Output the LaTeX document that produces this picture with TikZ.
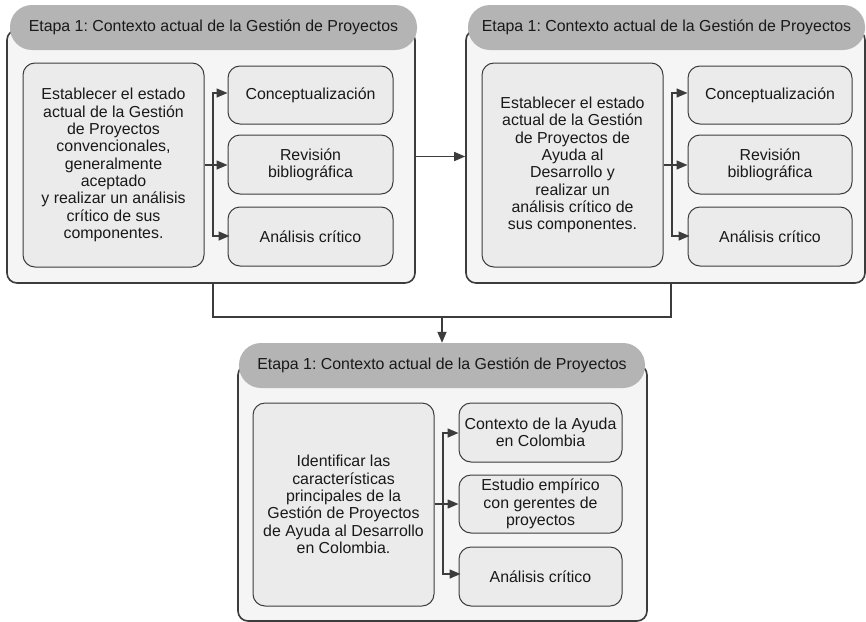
\documentclass[tikz,border=0pt]{standalone}
\usepackage{fontspec}
\setmainfont{Liberation Sans}
\frenchspacing
\usetikzlibrary{arrows.meta,calc}
\definecolor{headgray}{RGB}{180,180,180}
\definecolor{panelfill}{RGB}{245,245,245}
\definecolor{boxfill}{RGB}{235,235,235}
\definecolor{edge}{RGB}{60,60,60}
\definecolor{inkgray}{RGB}{25,25,25}
\tikzset{
  panel/.style={draw=edge, line width=1.6pt, fill=panelfill, rounded corners=10pt,
    inner sep=0pt},
  header/.style={fill=headgray, rounded corners=22pt, inner sep=0pt,
    minimum height=45pt, text=inkgray},
  item/.style={draw=edge, line width=1pt, fill=boxfill, rounded corners=12pt,
    inner sep=0pt, align=center, text=inkgray},
  conn/.style={draw=edge, line width=1.5pt},
  arr/.style={conn, -{Triangle[length=11pt,width=9pt]}},
}
\begin{document}
\begin{tikzpicture}[x=1pt, y=-1pt, font=\fontsize{15.9}{17.3}\selectfont]
\useasboundingbox (0,0) rectangle (866,621);
\fill[white] (0,0) rectangle (866,621);

% ---------- stage panel 1 ----------
\node[panel, minimum width=408pt, minimum height=253pt] (p1) at (211,156.5) {};
\node[header, minimum width=407pt] (h1) at (213.5,27.5) {Etapa 1: Contexto actual de la Gestión de Proyectos};
\node[item, minimum width=181pt, minimum height=204pt] (l1) at (113.5,165)
  {Establecer el estado\\actual de la Gestión\\de Proyectos\\convencionales,\\generalmente\\aceptado\\y realizar un análisis\\crítico de sus\\componentes.};
\node[item, minimum width=165pt, minimum height=58pt] (a1) at (310.5,95) {Conceptualización};
\node[item, minimum width=165pt, minimum height=59pt] (b1) at (310.5,164.5) {Revisión\\bibliográfica};
\node[item, minimum width=165pt, minimum height=59pt] (c1) at (310.5,236.5) {Análisis crítico};
\coordinate (t1) at (213,165);
\draw[arr] (l1.east |- t1) -- (b1.west |- t1);
\draw[arr] (t1) |- (a1.west |- 0,93);
\draw[arr] (t1) |- ($(c1.west |- 0,236)+(2,0)$);

% ---------- stage panel 2 ----------
\node[panel, minimum width=399pt, minimum height=253pt] (p2) at (665.5,156.5) {};
\node[header, minimum width=397pt] (h2) at (666.5,27.5) {Etapa 1: Contexto actual de la Gestión de Proyectos};
\node[item, minimum width=181pt, minimum height=204pt] (l2) at (572.5,165)
  {Establecer el estado\\actual de la Gestión\\de Proyectos de\\Ayuda al\\Desarrollo y\\realizar un\\análisis crítico de\\sus componentes.};
\node[item, minimum width=164pt, minimum height=58pt] (a2) at (770,95) {Conceptualización};
\node[item, minimum width=164pt, minimum height=59pt] (b2) at (770,164.5) {Revisión\\bibliográfica};
\node[item, minimum width=164pt, minimum height=59pt] (c2) at (770,236.5) {Análisis crítico};
\coordinate (t2) at (672,165);
\draw[arr] (l2.east |- t2) -- (b2.west |- t2);
\draw[arr] (t2) |- (a2.west |- 0,93);
\draw[arr] (t2) |- ($(c2.west |- 0,236)+(2,0)$);

% ---------- stage panel 3 ----------
\node[panel, minimum width=409pt, minimum height=256pt] (p3) at (442.5,493) {};
\node[header, minimum width=406pt] (h3) at (442,365.5) {Etapa 1: Contexto actual de la Gestión de Proyectos};
\node[item, minimum width=181pt, minimum height=203pt] (l3) at (343.5,504.5)
  {Identificar las\\características\\principales de la\\Gestión de Proyectos\\de Ayuda al Desarrollo\\en Colombia.};
\node[item, minimum width=163pt, minimum height=59pt] (a3) at (540.5,432.5) {Contexto de la Ayuda\\en Colombia};
\node[item, minimum width=163pt, minimum height=58pt] (b3) at (540.5,504) {Estudio empírico\\con gerentes de\\proyectos};
\node[item, minimum width=163pt, minimum height=59pt] (c3) at (540.5,576.5) {Análisis crítico};
\coordinate (t3) at (443,504);
\draw[arr] (l3.east |- t3) -- (b3.west |- t3);
\draw[arr] (t3) |- (a3.west |- 0,433);
\draw[arr] (t3) |- ($(c3.west |- 0,574)+(2,0)$);

% ---------- links between panels ----------
\draw[arr] (p1.east) -- (p2.west);
\coordinate (m) at (442,317);
\coordinate (d1) at (213,283);
\coordinate (d2) at (671,283);
\draw[conn] (d1) |- (m) -| (d2);
\draw[arr] (m) -- (h3.north);
\end{tikzpicture}
\end{document}
